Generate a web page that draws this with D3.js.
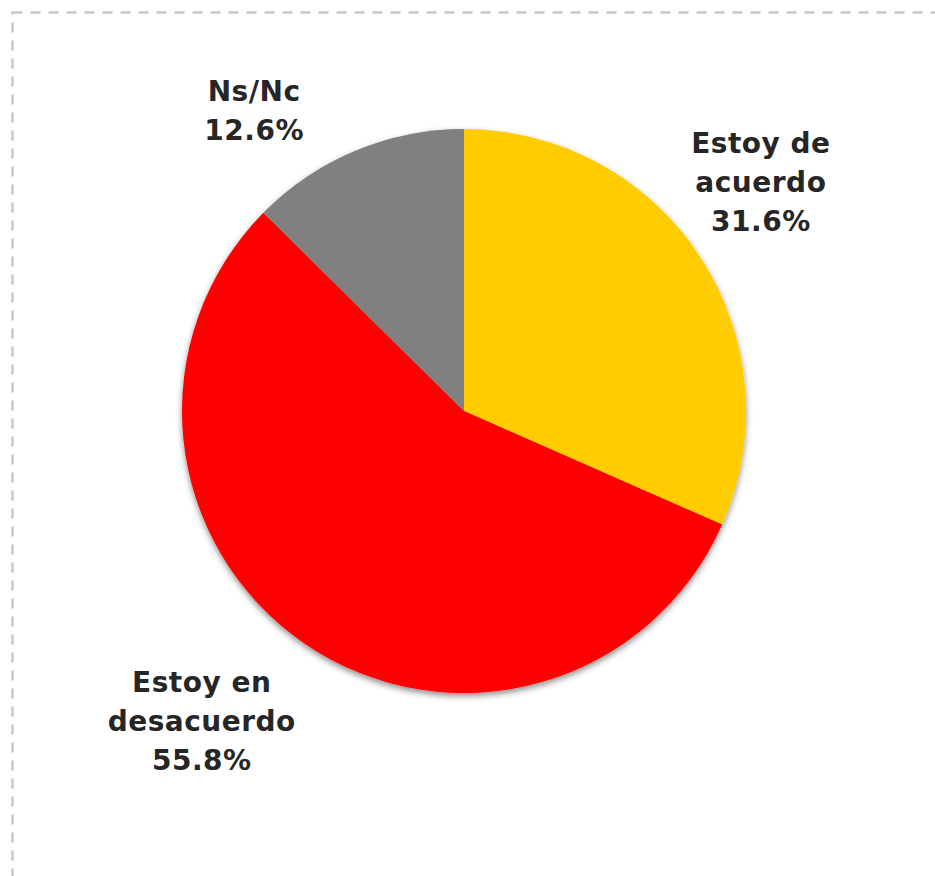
<!DOCTYPE html>
<html>
<head>
<meta charset="utf-8">
<script src="https://cdn.jsdelivr.net/npm/d3@7"></script>
<style>
  body { margin: 0; background: #fff; }
  text { font-family: "DejaVu Sans", sans-serif; font-weight: bold; fill: #262626; }
</style>
</head>
<body>
<svg class="pieChart"></svg>
<script>
// Data
const categories = ["Estoy de acuerdo", "Estoy en desacuerdo", "Ns/Nc"];
const values = [31.6, 55.8, 12.6];
const colors = ["#FFCC00", "#FF0000", "#808080"];
// label lines (as shown in the chart)
const labelLines = [["Estoy de", "acuerdo"], ["Estoy en", "desacuerdo"], ["Ns/Nc"]];
// label anchor points, given as [angle factor, radius factor] per slice
const labelPos = [[0.46, 1.33], [0.53, 1.44], [0.23, 1.30]];

const width = 935;
const height = 876;
const cx = 464, cy = 411, radius = 282;

const svg = d3.select(".pieChart")
    .attr("width", width)
    .attr("height", height);

// dashed frame, runs off the right and bottom of the picture
svg.append("rect")
    .attr("x", 12.5).attr("y", 12.5)
    .attr("width", width + 40).attr("height", height + 40)
    .attr("fill", "none")
    .attr("stroke", "#c8c8c8")
    .attr("stroke-width", 2.5)
    .attr("stroke-dasharray", "10,8");

// soft shadow under the pie
const defs = svg.append("defs");
const filter = defs.append("filter").attr("id", "shadow")
    .attr("x", "-10%").attr("y", "-10%").attr("width", "120%").attr("height", "120%");
filter.append("feDropShadow")
    .attr("dx", 0).attr("dy", 3).attr("stdDeviation", 3)
    .attr("flood-color", "#000").attr("flood-opacity", 0.45);

const g = svg.append("g")
    .attr("transform", `translate(${cx},${cy})`);

const pie = d3.pie().sort(null).value((d) => d.value);
const arc = d3.arc().innerRadius(0).outerRadius(radius);

const data = categories.map((c, i) => ({ name: c, value: values[i], color: colors[i], lines: labelLines[i], pos: labelPos[i] }));
const arcs = pie(data);

g.append("g").attr("filter", "url(#shadow)")
    .selectAll("path")
    .data(arcs)
    .join("path")
    .attr("d", arc)
    .attr("fill", (d) => d.data.color);

// labels
const lineH = 39;
const labels = g.selectAll(".label")
    .data(arcs)
    .join("text")
    .attr("class", "label")
    .attr("text-anchor", "middle")
    .attr("font-size", 28)
    .attr("letter-spacing", 0.5)
    .attr("transform", (d) => {
        const a = d.startAngle + (d.endAngle - d.startAngle) * d.data.pos[0];
        const r = radius * d.data.pos[1];
        return `translate(${Math.sin(a) * r},${-Math.cos(a) * r})`;
    });

labels.each(function (d) {
    const lines = d.data.lines.concat([d.data.value.toFixed(1) + "%"]);
    const t = d3.select(this);
    const y0 = -(lines.length - 1) * lineH / 2 + 10;
    lines.forEach((l, i) => {
        t.append("tspan").attr("x", 0).attr("y", y0 + i * lineH).text(l);
    });
});
</script>
</body>
</html>
